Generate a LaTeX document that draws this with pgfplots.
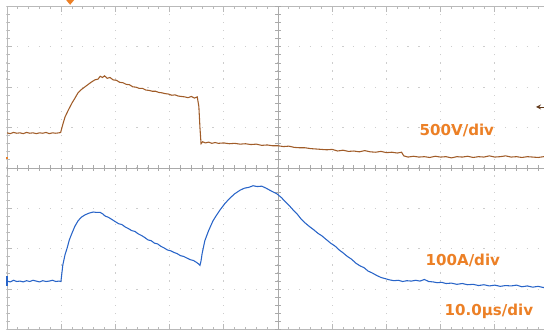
\documentclass[border=0pt]{standalone}
\usepackage{pgfplots}
\pgfplotsset{compat=1.18}
\usepackage{fontspec}
\setmainfont{DejaVu Sans}
\usetikzlibrary{backgrounds}
\definecolor{frameg}{RGB}{185,185,185}
\definecolor{gridg}{RGB}{205,205,205}
\definecolor{centg}{RGB}{170,170,170}
\definecolor{vtrace}{RGB}{160,92,40}
\definecolor{itrace}{RGB}{40,100,200}
\definecolor{lblor}{RGB}{236,128,38}
\begin{document}
\begin{tikzpicture}
\begin{axis}[
  scale only axis, width=406.5pt, height=242.4pt,
  xmin=0, xmax=100, ymin=-4, ymax=4,
  xtick={0,10,...,100}, ytick={-4,-3,...,4},
  minor x tick num=4, minor y tick num=4,
  xticklabels={}, yticklabels={},
  tick align=inside, major tick length=4pt, minor tick length=2.2pt,
  tick style={frameg, line width=0.6pt},
  axis line style={frameg, line width=0.7pt},
  grid=major,
  x grid style={gridg, line width=0.8pt, dash pattern=on 0.9pt off 5.16pt, dash phase=0.45pt},
  y grid style={gridg, line width=0.8pt, dash pattern=on 0.9pt off 7.23pt, dash phase=0.45pt},
  clip=false,
]
% centre lines with ticks
\draw[centg, line width=0.6pt] (axis cs:0,0) -- (axis cs:100,0);
\draw[centg, line width=4.5pt, dash pattern=on 0.6pt off 7.53pt, dash phase=0.3pt] (axis cs:0,0) -- (axis cs:100,0);
\draw[centg, line width=0.6pt] (axis cs:50,-4) -- (axis cs:50,4);
\draw[centg, line width=4.5pt, dash pattern=on 0.6pt off 5.46pt, dash phase=0.3pt] (axis cs:50,-4) -- (axis cs:50,4);

\addplot[vtrace, line width=0.8pt, mark=none] coordinates {
(0,0.87) (0.6,0.85) (1.2,0.88) (1.8,0.86) (2.4,0.87) (3.0,0.85) (3.6,0.88) (4.2,0.86) (4.8,0.87) (5.4,0.85) (6.0,0.87) (6.6,0.86) (7.2,0.88) (7.8,0.85) (8.4,0.87) (9.0,0.86) (9.6,0.87) (9.9,0.88)
(10.3,1.08) (10.7,1.26) (11.3,1.43) (12.0,1.61) (12.5,1.72) (13.1,1.86) (13.8,1.95) (14.8,2.05) (15.5,2.12) (16.2,2.18) (16.8,2.20) (17.2,2.27) (17.6,2.24) (18.0,2.28) (18.5,2.22) (19.0,2.24) (19.6,2.18) (20.2,2.17) (20.8,2.12) (21.4,2.11) (22.0,2.07) (22.6,2.06) (23.2,2.01) (23.8,2.00) (24.4,1.97) (25.0,1.97) (25.6,1.93) (26.2,1.92) (26.8,1.90) (27.4,1.90) (28.0,1.87) (28.6,1.86) (29.2,1.84) (29.8,1.83) (30.4,1.80) (31.0,1.81) (31.6,1.78) (32.2,1.77) (32.8,1.76) (33.4,1.74) (34.0,1.77) (34.6,1.73) (35.1,1.76) (35.4,1.52) (35.6,1.00) (35.8,0.60) (36.1,0.65) (36.6,0.62) (37.2,0.64) (37.8,0.61) (38.4,0.63) (39.0,0.61) (40.0,0.62) (41.0,0.60) (42.0,0.61) (43.0,0.59) (44.0,0.60) (45.0,0.58) (46.0,0.59) (47.0,0.56) (48.0,0.57) (49.0,0.55) (50.0,0.55) (51.0,0.53) (52.0,0.54) (53.0,0.51) (54.0,0.50) (55.0,0.50) (56.0,0.48) (57.0,0.47) (58.0,0.46) (59.0,0.45) (60.0,0.46) (61.0,0.42) (62.0,0.44) (63.0,0.41) (64.0,0.42) (65.0,0.40) (66.0,0.43) (67.0,0.40) (68.0,0.39) (69.0,0.41) (70.0,0.38) (71.0,0.39) (72.0,0.37) (72.8,0.39) (73.2,0.30) (74.0,0.27) (75.0,0.29) (76.0,0.27) (77.0,0.28) (78.0,0.26) (79.0,0.29) (80.0,0.27) (81.0,0.28) (82.0,0.25) (83.0,0.28) (84.0,0.27) (85.0,0.29) (86.0,0.26) (87.0,0.28) (88.0,0.27) (89.0,0.30) (90.0,0.27) (91.0,0.28) (92.0,0.30) (93.0,0.27) (94.0,0.28) (95.0,0.26) (96.0,0.28) (97.0,0.27) (98.0,0.26) (99.0,0.28) (100,0.27)
};

\addplot[itrace, line width=0.8pt, mark=none] coordinates {
(0,-2.80) (0.6,-2.82) (1.2,-2.78) (1.8,-2.81) (2.4,-2.80) (3.0,-2.82) (3.6,-2.79) (4.2,-2.81) (4.8,-2.78) (5.4,-2.80) (6.0,-2.82) (6.6,-2.79) (7.2,-2.81) (7.8,-2.80) (8.4,-2.78) (9.0,-2.81) (9.6,-2.80) (9.95,-2.81)
(10.3,-2.40) (10.7,-2.15) (11.1,-1.98) (11.5,-1.78) (12.0,-1.61) (12.5,-1.45) (13.1,-1.31) (13.7,-1.22) (14.4,-1.16) (15.1,-1.12) (15.9,-1.09) (16.5,-1.10) (17.2,-1.10) (17.7,-1.14) (18.1,-1.19) (18.7,-1.22) (19.3,-1.27) (20.0,-1.33) (20.6,-1.38) (21.2,-1.40) (21.8,-1.46) (22.4,-1.50) (23.0,-1.55) (23.6,-1.57) (24.2,-1.63) (24.8,-1.67) (25.4,-1.72) (26.0,-1.78) (26.6,-1.80) (27.2,-1.86) (27.8,-1.88) (28.4,-1.94) (29.0,-1.98) (29.6,-2.03) (30.2,-2.05) (30.8,-2.09) (31.4,-2.12) (32.0,-2.17) (32.6,-2.19) (33.2,-2.23) (33.8,-2.27) (34.4,-2.29) (35.0,-2.34) (35.4,-2.38) (35.6,-2.41) (35.8,-2.30) (36.0,-2.12) (36.5,-1.80) (37.2,-1.55) (38.0,-1.31) (38.6,-1.18) (39.3,-1.04) (40.2,-0.88) (41.1,-0.75) (42.0,-0.64) (43.0,-0.55) (43.8,-0.50) (44.6,-0.48) (45.4,-0.44) (46.2,-0.46) (47.0,-0.45) (47.8,-0.50) (48.9,-0.58) (49.8,-0.64) (50.6,-0.73) (51.4,-0.84) (52.0,-0.92) (52.8,-1.04) (53.6,-1.15) (54.3,-1.27) (55.0,-1.36) (55.8,-1.45) (56.6,-1.53) (57.4,-1.62) (58.1,-1.68) (58.9,-1.77) (59.7,-1.86) (60.5,-1.93) (61.3,-2.03) (62.0,-2.10) (62.8,-2.19) (63.6,-2.26) (64.3,-2.35) (65.1,-2.42) (65.9,-2.47) (66.6,-2.55) (67.4,-2.60) (68.2,-2.66) (69.0,-2.71) (69.8,-2.74) (70.6,-2.77) (71.4,-2.79) (72.2,-2.78) (73.0,-2.81) (73.8,-2.79) (74.6,-2.80) (75.4,-2.78) (76.2,-2.80) (77.0,-2.76) (77.8,-2.81) (78.6,-2.82) (79.4,-2.84) (80.2,-2.83) (81.0,-2.86) (82.0,-2.85) (83.0,-2.88) (84.0,-2.86) (85.0,-2.89) (86.0,-2.88) (87.0,-2.91) (88.0,-2.89) (89.0,-2.92) (90.0,-2.90) (91.0,-2.93) (92.0,-2.91) (93.0,-2.92) (94.0,-2.90) (95.0,-2.94) (96.0,-2.92) (97.0,-2.95) (98.0,-2.93) (99.0,-2.96) (100,-2.95)
};

% labels
\node[lblor, font=\bfseries\fontsize{11.3}{13}\selectfont] at (axis cs:83.0,0.92) {500V/div};
\node[lblor, font=\bfseries\fontsize{11.3}{13}\selectfont] at (axis cs:84.1,-2.28) {100A/div};
\node[lblor, font=\bfseries\fontsize{11.3}{13}\selectfont] at (axis cs:88.9,-3.54) {10.0μs/div};

% trigger marker and channel markers
\fill[lblor] (axis cs:10.9,4.16) -- (axis cs:12.4,4.16) -- (axis cs:11.65,4.04) -- cycle;
\draw[vtrace!60!black, line width=0.7pt, -stealth] (axis cs:99.4,1.51) -- (axis cs:97.6,1.51);
\draw[lblor, line width=0.8pt] (axis cs:0,0.27) -- (axis cs:0,0.22);
\draw[itrace, line width=1pt] (axis cs:0,-2.68) -- (axis cs:0,-2.92);

\coordinate (bl) at (axis cs:-1.2915,-4.158);
\coordinate (tr) at (axis cs:99.08,4.158);
\end{axis}
\begin{scope}[on background layer]
\fill[white] (bl) rectangle (tr);
\end{scope}
\pgfresetboundingbox
\path[use as bounding box] (bl) rectangle (tr);
\end{tikzpicture}
\end{document}
